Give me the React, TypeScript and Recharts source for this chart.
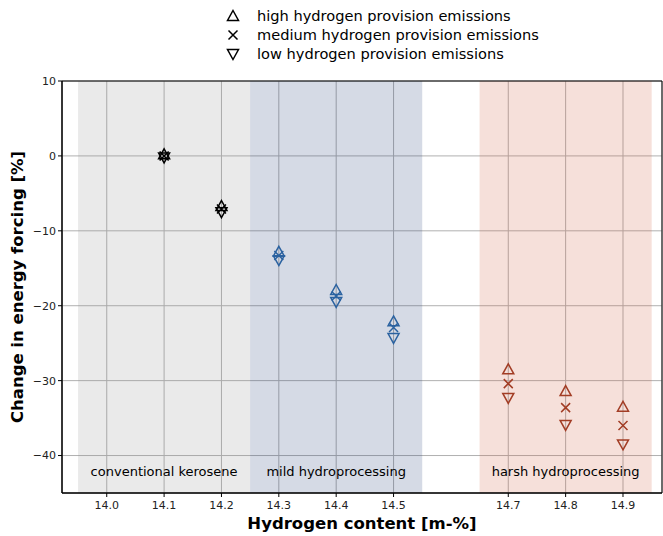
import React from 'react';
import {
  ScatterChart,
  Scatter,
  XAxis,
  YAxis,
  CartesianGrid,
  ReferenceArea,
  Label,
} from 'recharts';

// hydrogen content of each fuel and change in energy forcing per emission case
const hydrogen = [14.1, 14.2, 14.3, 14.4, 14.5, 14.7, 14.8, 14.9];
const high = [0.2, -6.7, -12.8, -17.9, -22.1, -28.5, -31.4, -33.5];
const medium = [0, -7.1, -13.3, -18.7, -22.9, -30.4, -33.6, -36.0];
const low = [-0.2, -7.5, -13.9, -19.5, -24.3, -32.3, -35.9, -38.5];
const groupOf = ['conv', 'conv', 'mild', 'mild', 'mild', 'harsh', 'harsh', 'harsh'];

const xTicks = [14.0, 14.1, 14.2, 14.3, 14.4, 14.5, 14.7, 14.8, 14.9];
const yTicks = [10, 0, -10, -20, -30, -40];

const regions = [
  { x1: 13.95, x2: 14.25, label: 'conventional kerosene', fill: 'rgb(150,150,150)' },
  { x1: 14.25, x2: 14.55, label: 'mild hydroprocessing', fill: 'rgb(45,70,125)' },
  { x1: 14.65, x2: 14.95, label: 'harsh hydroprocessing', fill: 'rgb(210,100,70)' },
];

const COLORS: Record<string, string> = {
  conv: '#000000',
  mild: '#2b62a0',
  harsh: '#a23d25',
};

const FONT = '"DejaVu Sans", sans-serif';

type Kind = 'up' | 'cross' | 'down';

const Marker = ({ kind, cx, cy, color }: { kind: Kind; cx: number; cy: number; color: string }) => {
  const r = 5.5;
  if (kind === 'cross') {
    const d = 4.5;
    return (
      <path
        d={`M${cx - d},${cy - d}L${cx + d},${cy + d}M${cx - d},${cy + d}L${cx + d},${cy - d}`}
        stroke={color}
        strokeWidth={1.5}
        fill="none"
      />
    );
  }
  const s = kind === 'up' ? 1 : -1;
  return (
    <path
      d={`M${cx},${cy - s * r}L${cx + r},${cy + s * r * 0.8}L${cx - r},${cy + s * r * 0.8}Z`}
      stroke={color}
      strokeWidth={1.5}
      fill="none"
    />
  );
};

const makeShape = (kind: Kind) => (props: any) => {
  const { cx, cy, payload } = props;
  return <Marker kind={kind} cx={cx} cy={cy} color={COLORS[payload.g]} />;
};

const build = (vals: number[]) => hydrogen.map((x, i) => ({ x, y: vals[i], g: groupOf[i] }));

const legendItems: { kind: Kind; text: string }[] = [
  { kind: 'up', text: 'high hydrogen provision emissions' },
  { kind: 'cross', text: 'medium hydrogen provision emissions' },
  { kind: 'down', text: 'low hydrogen provision emissions' },
];

const fmtY = (v: number) => String(v).replace('-', '\u2212');

export default function App() {
  return (
    <div style={{ position: 'absolute', left: 0, top: 0, width: 663, height: 536, background: '#fff', fontFamily: FONT }}>
      <ScatterChart width={663} height={536} margin={{ top: 81, right: 1, bottom: 0, left: 0 }}>
        <CartesianGrid stroke="#b0b0b0" strokeWidth={1} />
        {regions.map((r) => (
          <ReferenceArea
            key={r.label}
            x1={r.x1}
            x2={r.x2}
            y1={-45}
            y2={10}
            fill={r.fill}
            fillOpacity={0.2}
            stroke="none"
            ifOverflow="visible"
          >
            <Label
              value={r.label}
              position="insideBottom"
              offset={17}
              style={{ fontSize: 13, fill: '#000', fontFamily: FONT }}
            />
          </ReferenceArea>
        ))}
        <ReferenceArea
          x1={13.922}
          x2={14.968}
          y1={-45}
          y2={10}
          fill="none"
          stroke="#000"
          strokeWidth={1}
          ifOverflow="visible"
        />
        <XAxis
          type="number"
          dataKey="x"
          domain={[13.922, 14.968]}
          ticks={xTicks}
          tickFormatter={(v: number) => v.toFixed(1)}
          allowDataOverflow
          height={43}
          stroke="#000"
          tickSize={4}
          tickMargin={4}
          tick={{ fontSize: 11, fill: '#222', fontFamily: FONT }}
        >
          <Label
            value="Hydrogen content [m-%]"
            position="insideBottom"
            offset={7}
            style={{ fontSize: 16.5, fontWeight: 'bold', fill: '#000', fontFamily: FONT }}
          />
        </XAxis>
        <YAxis
          type="number"
          dataKey="y"
          domain={[-45, 10]}
          ticks={yTicks}
          allowDataOverflow
          width={62}
          stroke="#000"
          tickSize={4}
          tickFormatter={fmtY}
          tick={{ fontSize: 11, fill: '#222', fontFamily: FONT }}
        >
          <Label
            value="Change in energy forcing [%]"
            angle={-90}
            position="insideLeft"
            offset={17}
            style={{ fontSize: 16.5, fontWeight: 'bold', fill: '#000', fontFamily: FONT, textAnchor: 'middle' }}
          />
        </YAxis>
        <Scatter data={build(high)} shape={makeShape('up')} isAnimationActive={false} />
        <Scatter data={build(medium)} shape={makeShape('cross')} isAnimationActive={false} />
        <Scatter data={build(low)} shape={makeShape('down')} isAnimationActive={false} />
      </ScatterChart>
      <div style={{ position: 'absolute', left: 224, top: 6 }}>
        {legendItems.map((it) => (
          <div key={it.text} style={{ display: 'flex', alignItems: 'center', height: 19 }}>
            <svg width={18} height={18} style={{ marginRight: 15 }}>
              <Marker kind={it.kind} cx={9} cy={9} color="#000" />
            </svg>
            <span style={{ fontSize: 14.6, color: '#000' }}>{it.text}</span>
          </div>
        ))}
      </div>
    </div>
  );
}
